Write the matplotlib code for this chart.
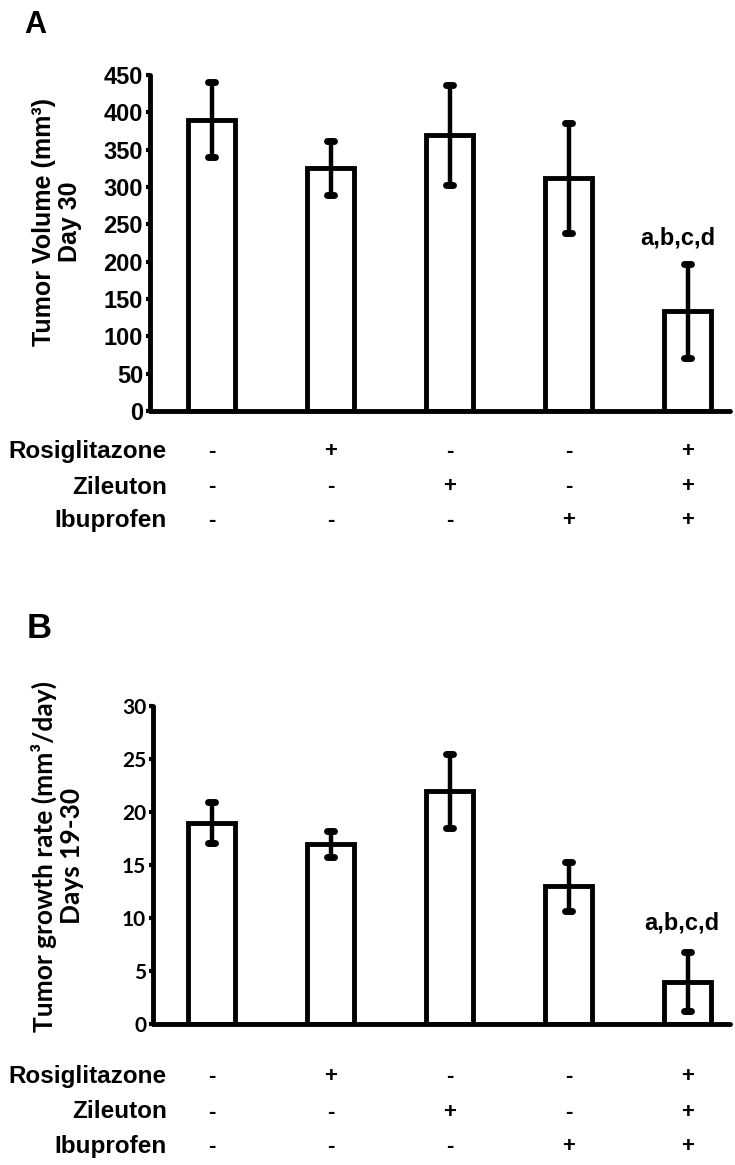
import matplotlib
matplotlib.use("Agg")
import matplotlib.pyplot as plt
from matplotlib.transforms import blended_transform_factory

# data
groups = [0, 1, 2, 3, 4]
volume_mean = [390, 325, 370, 312, 134]
volume_err = [50, 36, 67, 74, 63]
rate_mean = [19.0, 17.0, 22.0, 13.0, 4.0]
rate_err = [1.9, 1.2, 3.5, 2.3, 2.8]

drug_names = ["Rosiglitazone", "Zileuton", "Ibuprofen"]
rosiglitazone = ["-", "+", "-", "-", "+"]
zileuton = ["-", "-", "+", "-", "+"]
ibuprofen = ["-", "-", "-", "+", "+"]

volume_ticks = [0, 50, 100, 150, 200, 250, 300, 350, 400, 450]
rate_ticks = [0, 5, 10, 15, 20, 25, 30]
sig_label = "a,b,c,d"

W, H = 735, 1165
ARIAL = "Liberation Sans"
CALIBRI = ["Lato", "DejaVu Sans"]

fig = plt.figure(figsize=(W / 100, H / 100), dpi=100)


def px_x(x):
    return x / W


def px_y(y):
    return 1 - y / H


def to_data(xpix):
    # bar centres sit 119 px apart starting at x=211.5 px
    return (xpix - 211.5) / 119.0


def draw_panel(ax, means, errs, ticks, x_left, tick_font, tick_size):
    ax.bar(groups, means, width=0.40, color="white", edgecolor="black",
           linewidth=3.5, zorder=2)
    ax.errorbar(groups, means, yerr=errs, fmt="none", ecolor="black",
                elinewidth=3.2, capsize=0, zorder=3)
    lows = [m - e for m, e in zip(means, errs)]
    highs = [m + e for m, e in zip(means, errs)]
    xs_left = [g - 0.03 for g in groups]
    xs_right = [g + 0.03 for g in groups]
    for ends in (lows, highs):
        caps = ax.hlines(ends, xs_left, xs_right, color="black",
                         linewidth=5, zorder=4)
        caps.set_capstyle("round")
    ax.set_xlim(to_data(x_left), to_data(730))
    ax.set_ylim(ticks[0], ticks[-1])
    ax.set_yticks(ticks)
    ax.set_xticks([])
    for side in ["top", "right"]:
        ax.spines[side].set_visible(False)
    for side in ["left", "bottom"]:
        ax.spines[side].set_linewidth(3.5)
        ax.spines[side].set_capstyle("round")
    ax.tick_params(axis="y", length=3, width=3, pad=2)
    for lab in ax.get_yticklabels():
        lab.set_fontfamily(tick_font)
        lab.set_fontweight("bold")
        lab.set_fontsize(tick_size)


def draw_rows(ax, y_rows):
    trans = blended_transform_factory(ax.transData, fig.transFigure)
    rows = [rosiglitazone, zileuton, ibuprofen]
    for name, signs, ypix in zip(drug_names, rows, y_rows):
        fig.text(px_x(167), px_y(ypix), name, ha="right", va="center",
                 fontsize=17.5, fontweight="bold", family=ARIAL)
        for g, s in zip(groups, signs):
            ax.text(g, px_y(ypix), s, transform=trans, ha="center",
                    va="center", fontsize=16, fontweight="bold",
                    family=ARIAL)


# panel A
axA = fig.add_axes([px_x(150), px_y(411), px_x(730 - 150), 336 / H])
draw_panel(axA, volume_mean, volume_err, volume_ticks, 150, ARIAL, 17)
axA.text(to_data(678), 223, sig_label, ha="center", va="baseline",
         fontsize=17, fontweight="bold", family=ARIAL)
fig.text(px_x(57), px_y(222), "Tumor Volume (mm\u00b3)\nDay 30",
         rotation=90, ha="center", va="center", multialignment="center",
         fontsize=18, fontweight="bold", family=ARIAL, linespacing=1.15)
fig.text(px_x(24), px_y(33), "A", fontsize=22, fontweight="bold",
         family=ARIAL, va="baseline")
draw_rows(axA, [452, 487, 520])

# panel B
axB = fig.add_axes([px_x(153), px_y(1024), px_x(730 - 153), 318 / H])
draw_panel(axB, rate_mean, rate_err, rate_ticks, 153, CALIBRI, 15)
axB.text(to_data(682), 8.9, sig_label, ha="center", va="baseline",
         fontsize=17, fontweight="bold", family=ARIAL)
fig.text(px_x(57), px_y(856),
         "Tumor growth rate (mm\u00b3/day)\nDays 19-30",
         rotation=90, ha="center", va="center", multialignment="center",
         fontsize=19, fontweight="bold", family=CALIBRI, linespacing=1.15)
fig.text(px_x(27), px_y(638), "B", fontsize=25, fontweight="bold",
         family=ARIAL, va="baseline")
draw_rows(axB, [1077, 1112, 1146])

fig.savefig("out.png", dpi=100, facecolor="white")
